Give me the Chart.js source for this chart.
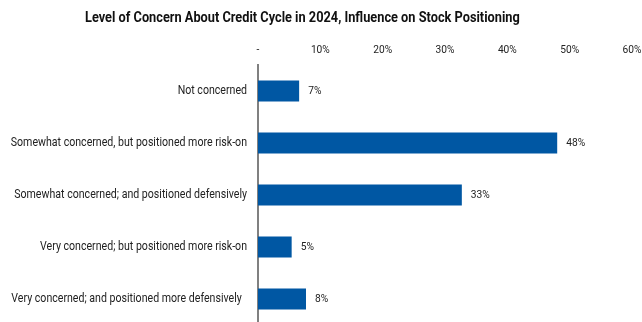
<!DOCTYPE html>
<html>
<head>
<meta charset="utf-8">
<script src="https://cdn.jsdelivr.net/npm/chart.js@4.4.1/dist/chart.umd.min.js"></script>
<style>
  html, body { margin: 0; padding: 0; background: #fff; overflow: hidden; width: 642px; height: 322px; }
  #wrap { position: relative; width: 642px; height: 330px; }
  #title { position: absolute; left: 85px; top: 8px; white-space: nowrap; line-height: 18px;
    font-family: "Roboto", sans-serif; font-weight: bold; font-size: 15.5px; color: #111;
    transform-origin: 0 0; transform: scaleX(0.824); }
  canvas { position: absolute; left: 0; top: 0; }
</style>
</head>
<body>
<div id="wrap">
  <canvas id="c" width="642" height="330"></canvas>
  <div id="title">Level of Concern About Credit Cycle in 2024, Influence on Stock Positioning</div>
</div>
<script>
const categories = [
  "Not concerned",
  "Somewhat concerned, but positioned more risk-on",
  "Somewhat concerned; and positioned defensively",
  "Very concerned; but positioned more risk-on",
  "Very concerned; and positioned more defensively  "
];
const shares = [6.6, 48.0, 32.7, 5.4, 7.7];
const valueLabels = ["7%", "48%", "33%", "5%", "8%"];
const tickValues = [0, 10, 20, 30, 40, 50, 60];
const tickLabels = ["-", "10%", "20%", "30%", "40%", "50%", "60%"];

const FONT = '"Roboto", sans-serif';

function squeezedText(ctx, text, x, y, align, squeeze) {
  ctx.save();
  ctx.translate(x, y);
  ctx.scale(squeeze, 1);
  ctx.textAlign = align;
  ctx.fillText(text, 0, 0);
  ctx.restore();
}

const textPlugin = {
  id: 'textPlugin',
  afterDatasetsDraw(chart) {
    const ctx = chart.ctx;
    const xs = chart.scales.x, ys = chart.scales.y;
    ctx.save();
    ctx.fillStyle = '#222';
    ctx.textBaseline = 'middle';
    // category labels
    ctx.font = '13px ' + FONT;
    categories.forEach((c, i) => {
      squeezedText(ctx, c, ys.right - 11, ys.getPixelForValue(i), 'right', 0.815);
    });
    // x tick labels
    ctx.font = '10.5px ' + FONT;
    tickValues.forEach((v, i) => {
      squeezedText(ctx, tickLabels[i], xs.getPixelForValue(v), chart.chartArea.top - 15, 'center', 0.97);
    });
    // value labels
    ctx.font = '11.5px ' + FONT;
    chart.getDatasetMeta(0).data.forEach((bar, i) => {
      squeezedText(ctx, valueLabels[i], bar.x + 9, bar.y, 'left', 0.89);
    });
    ctx.restore();
  }
};

new Chart(document.getElementById('c'), {
  type: 'bar',
  data: {
    labels: categories,
    datasets: [{
      data: shares,
      backgroundColor: '#0057A3',
      borderWidth: 0,
      barPercentage: 0.8,
      categoryPercentage: 0.5
    }]
  },
  options: {
    indexAxis: 'y',
    responsive: false,
    animation: false,
    layout: { padding: { top: 0, right: 10, bottom: 5, left: 0 } },
    plugins: { legend: { display: false }, tooltip: { enabled: false }, title: { display: false } },
    scales: {
      x: {
        position: 'top',
        min: 0, max: 60,
        afterFit(scale) { scale.height = 65; },
        afterBuildTicks(scale) { scale.ticks = tickValues.map(v => ({ value: v })); },
        grid: { display: false, drawTicks: false },
        border: { display: false },
        ticks: { display: false }
      },
      y: {
        afterFit(scale) { scale.width = 258; },
        grid: { display: false, drawTicks: false },
        border: { display: true, color: '#808080', width: 2 },
        ticks: { display: false }
      }
    }
  },
  plugins: [textPlugin]
});
</script>
</body>
</html>
